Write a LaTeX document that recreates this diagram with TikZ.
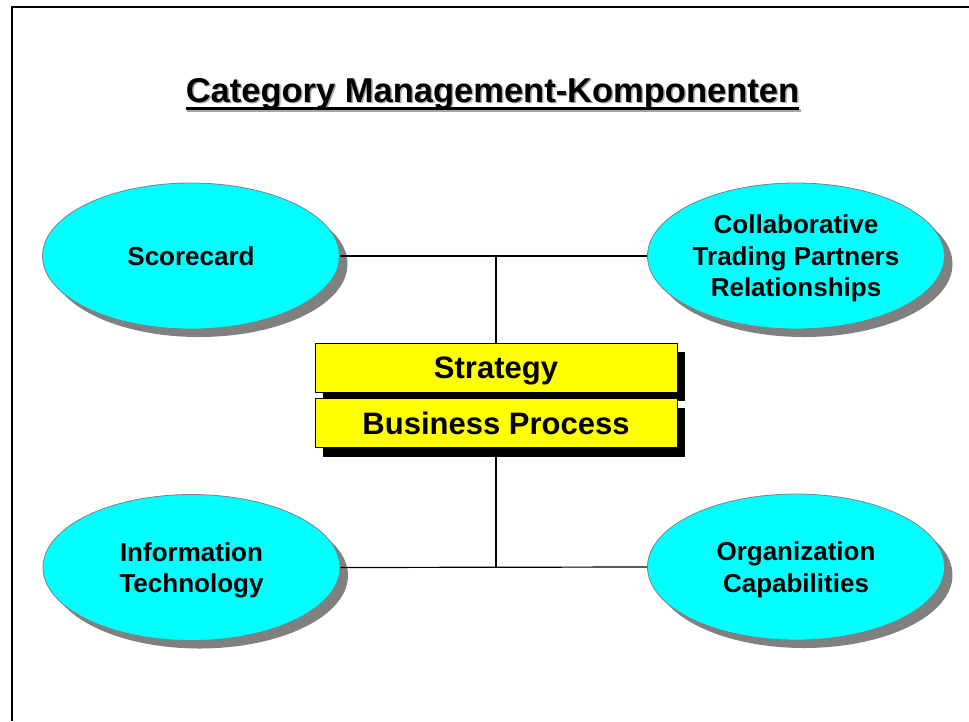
\documentclass[tikz,border=0pt]{standalone}
\usepackage{fontspec}
\setmainfont{Liberation Sans}
\usetikzlibrary{shapes.geometric,shadows}
\definecolor{ovalfill}{HTML}{00FFFF}
\definecolor{boxfill}{HTML}{FFFF00}
\definecolor{shadegray}{HTML}{808080}
\begin{document}
\begin{tikzpicture}[x=1pt,y=-1pt,
  oval/.style={ellipse, draw=shadegray, line width=0.8pt, fill=ovalfill,
    minimum width=297pt, minimum height=146pt, inner sep=0pt, align=center,
    text depth=-4pt,
    font=\fontsize{26}{31.5}\selectfont\bfseries,
    drop shadow={shadow xshift=8pt, shadow yshift=-8pt, fill=shadegray, opacity=1}},
  pbox/.style={rectangle, draw=black, line width=0.8pt, fill=boxfill,
    minimum width=362pt, minimum height=49pt, inner sep=0pt,
    text height=22pt, text depth=0pt,
    font=\fontsize{31}{36}\selectfont\bfseries,
    drop shadow={shadow xshift=8pt, shadow yshift=-9pt, fill=black, opacity=1}},
  link/.style={line width=1.2pt, black}
]
\useasboundingbox (0,0) rectangle (969,721);
\fill[white] (0,0) rectangle (969,721);

% page frame (open at right and bottom)
\draw[line width=2.5pt] (12,721) -- (12,7) -- (969,7);

% title with soft shadow and underline
\node[anchor=base, inner sep=0pt, text=shadegray!70, font=\fontsize{34.5}{40}\selectfont\bfseries]
  (titleshade) at (494,103.5) {Category Management-Komponenten};
\node[anchor=base, inner sep=0pt, font=\fontsize{34.5}{40}\selectfont\bfseries]
  (title) at (492.5,102) {Category Management-Komponenten};
\draw[line width=3pt, shadegray!70] ([xshift=1.5pt,yshift=-8.5pt]title.base west) -- ([xshift=1.5pt,yshift=-8.5pt]title.base east);
\draw[line width=3pt] ([yshift=-6.5pt]title.base west) -- ([yshift=-6.5pt]title.base east);

% junction points of the connectors
\coordinate (jt) at (496,256);
\coordinate (jb) at (496,568);

% vertical spine behind the central boxes
\draw[link] (jt) -- (jb);

% the four components
\node[oval] (sc)  at (191,256) {Scorecard};
\node[oval] (ctp) at (796,256) {Collaborative\\Trading Partners\\Relationships};
\node[oval] (it)  at (191.5,567.5) {Information\\Technology};
\node[oval] (org) at (796,567) {Organization\\Capabilities};

% central stack
\node[pbox] (strat) at (496,367.5) {Strategy};
\node[pbox] (bp)    at (496,423) {Business Process};

% connectors
\draw[link] (sc.east) -- (ctp.west);
\draw[link] (it.east) -- (org.west);
\end{tikzpicture}
\end{document}
